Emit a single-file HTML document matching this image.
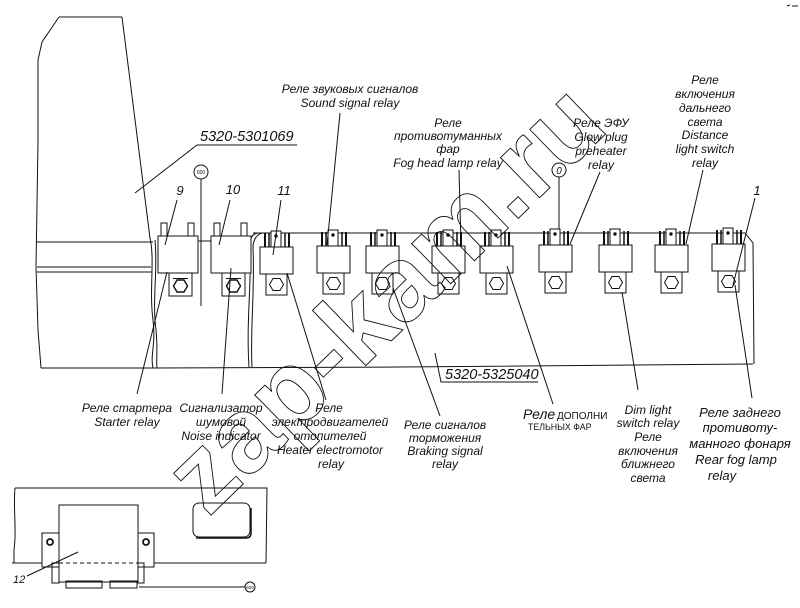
<!DOCTYPE html>
<html><head><meta charset="utf-8">
<style>
html,body{margin:0;padding:0;background:#fff;width:800px;height:608px;overflow:hidden}
svg{display:block}
.l{stroke:#111;stroke-width:1;fill:none}
text{font-family:"Liberation Sans","DejaVu Sans",sans-serif;font-style:italic;font-size:12px;fill:#111}
.c{text-anchor:middle}
</style></head>
<body>
<svg width="800" height="608" viewBox="0 0 800 608" xmlns="http://www.w3.org/2000/svg">
<defs>
<g id="sr" class="l">
  <rect x="0" y="246" width="33" height="27" fill="#fff"/>
  <rect x="11" y="230" width="10" height="16" fill="#fff"/>
  <circle cx="16" cy="235" r="1.2" fill="#111"/>
  <line x1="5" y1="232" x2="5" y2="246" stroke-width="2"/>
  <line x1="9" y1="232" x2="9" y2="246" stroke-width="1.5"/>
  <line x1="25" y1="232" x2="25" y2="246" stroke-width="1.5"/>
  <line x1="29" y1="232" x2="29" y2="246" stroke-width="2"/>
  <rect x="6" y="273" width="21" height="21"/>
  <polygon points="9.5,283.5 13,277.5 20,277.5 23.5,283.5 20,289.5 13,289.5"/>
</g>
<g id="br" class="l">
  <rect x="0" y="236" width="40" height="37" fill="#fff"/>
  <rect x="3" y="223" width="6" height="13"/>
  <rect x="30" y="223" width="6" height="13"/>
  <rect x="11" y="273" width="23" height="23"/>
  <line x1="15" y1="278.5" x2="30" y2="278.5"/>
  <polygon points="15.5,286 19,280 26,280 29.5,286 26,292 19,292" stroke-width="1.4"/>
</g>
</defs>

<!-- left plate outline -->
<g class="l">
  <path d="M59,17 L122,17"/>
  <path d="M59,17 L42,42 L38,60 L38,140 L36,267 L38,330 L41,368"/>
  <path d="M122,17 L150,238"/>
  <path d="M37,242 L153,242 M37,267 L151,267 M37,272 L152,272"/>
  <path d="M150,238 C155,260 149,290 153,320 C156,345 150,355 153,368"/>
  <path d="M155,240 C158,270 152,300 156,330 C158,350 156,360 157,368"/>
  <path d="M41,368 L155,368 L400,367 L753,364"/>
  <path d="M258,233 Q250,234 250,245 C252,280 246,320 249,367"/>
  <path d="M262,233 Q253,236 253,248 C255,290 250,330 252,367"/>
  <path d="M253,233 L745,233 L753,243 L754,364"/>
  <path d="M198,241 L211,241"/>
</g>

<!-- relays -->
<use href="#br" x="158" y="0"/>
<use href="#br" x="211" y="0"/>
<use href="#sr" x="260" y="1"/>
<use href="#sr" x="317" y="0"/>
<use href="#sr" x="366" y="0"/>
<use href="#sr" x="432" y="0"/>
<use href="#sr" x="480" y="0"/>
<use href="#sr" x="539" y="-1"/>
<use href="#sr" x="599" y="-1"/>
<use href="#sr" x="655" y="-1"/>
<use href="#sr" x="712" y="-2"/>

<!-- circles -->
<g class="l">
  <circle cx="201" cy="172" r="7"/>
  <line x1="201" y1="179" x2="201" y2="306"/>
  <circle cx="559" cy="170" r="7"/>
  <line x1="559" y1="177" x2="559" y2="229"/>
</g>
<text x="201" y="174" class="c" style="font-size:5px;font-style:normal">600</text>
<text x="559" y="174" class="c" style="font-size:10px">0</text>

<!-- leaders -->
<g class="l" stroke-width="0.9">
  <path d="M297,145 L197,145 L135,193"/>
  <path d="M538,382 L441,382 L435,353"/>
  <line x1="340" y1="113" x2="327" y2="245"/>
  <line x1="459" y1="170" x2="461" y2="245"/>
  <line x1="600" y1="172" x2="570" y2="244"/>
  <line x1="703" y1="170" x2="686" y2="244"/>
  <line x1="755" y1="198" x2="733" y2="285"/>
  <line x1="177" y1="200" x2="165" y2="245"/>
  <line x1="230" y1="200" x2="219" y2="245"/>
  <line x1="281" y1="200" x2="273" y2="255"/>
  <line x1="137" y1="394" x2="167" y2="272"/>
  <line x1="222" y1="394" x2="231" y2="268"/>
  <line x1="326" y1="400" x2="287" y2="273"/>
  <line x1="440" y1="416" x2="393" y2="288"/>
  <line x1="553" y1="404" x2="507" y2="266"/>
  <line x1="638" y1="390" x2="622" y2="292"/>
  <line x1="752" y1="398" x2="735" y2="285"/>
</g>

<!-- labels top -->
<text x="350" y="93" class="c">Реле звуковых сигналов</text>
<text x="350" y="107" class="c">Sound signal relay</text>

<text x="200" y="141" style="font-size:14.5px">5320-5301069</text>

<text x="448" y="127" class="c">Реле</text>
<text x="448" y="140" class="c">противотуманных</text>
<text x="448" y="153" class="c">фар</text>
<text x="448" y="167" class="c">Fog head lamp relay</text>

<text x="601" y="127" class="c">Реле ЭФУ</text>
<text x="601" y="141" class="c">Glow plug</text>
<text x="601" y="155" class="c">preheater</text>
<text x="601" y="169" class="c">relay</text>

<text x="705" y="84" class="c">Реле</text>
<text x="705" y="98" class="c">включения</text>
<text x="705" y="112" class="c">дальнего</text>
<text x="705" y="126" class="c">света</text>
<text x="705" y="139" class="c">Distance</text>
<text x="705" y="153" class="c">light switch</text>
<text x="705" y="167" class="c">relay</text>

<text x="180" y="195" class="c" style="font-size:13px">9</text>
<text x="233" y="194" class="c" style="font-size:13px">10</text>
<text x="284" y="195" class="c" style="font-size:13px">11</text>
<text x="757" y="195" class="c" style="font-size:13px">1</text>

<!-- labels bottom -->
<text x="127" y="412" class="c">Реле стартера</text>
<text x="127" y="426" class="c">Starter relay</text>

<text x="221" y="412" class="c">Сигнализатор</text>
<text x="221" y="426" class="c">шумовой</text>
<text x="221" y="440" class="c">Noise indicator</text>

<text x="329" y="412" class="c">Реле</text>
<text x="330" y="426" class="c">электродвигателей</text>
<text x="330" y="440" class="c">отопителей</text>
<text x="330" y="454" class="c">Heater electromotor</text>
<text x="331" y="468" class="c">relay</text>

<text x="445" y="379" style="font-size:14.5px">5320-5325040</text>

<text x="445" y="429" class="c">Реле сигналов</text>
<text x="445" y="442" class="c">торможения</text>
<text x="445" y="455" class="c">Braking signal</text>
<text x="445" y="468" class="c">relay</text>

<text x="523" y="419" style="font-size:14px">Реле</text>
<text x="557" y="419" style="font-size:10px;font-style:normal">ДОПОЛНИ</text>
<text x="528" y="430" style="font-size:8.8px;font-style:normal">ТЕЛЬНЫХ ФАР</text>

<text x="648" y="414" class="c">Dim light</text>
<text x="648" y="427" class="c">switch relay</text>
<text x="648" y="441" class="c">Реле</text>
<text x="648" y="455" class="c">включения</text>
<text x="648" y="468" class="c">ближнего</text>
<text x="648" y="482" class="c">света</text>

<text x="740" y="417" class="c" style="font-size:13px">Реле заднего</text>
<text x="740" y="432" class="c" style="font-size:13px">противоту-</text>
<text x="740" y="448" class="c" style="font-size:13px">манного фонаря</text>
<text x="736" y="464" class="c" style="font-size:13px">Rear fog lamp</text>
<text x="722" y="480" class="c" style="font-size:13px">relay</text>

<!-- bottom figure -->
<g class="l">
  <path d="M15,488 L267,488 L266,563"/>
  <path d="M15,488 C13,510 17,530 14,550 L14,563"/>
  <path d="M12,563 L42,563 M154,563 L266,563"/>
  <path d="M59,563 L138,563" stroke-dasharray="4,3"/>
  <rect x="59" y="505" width="79" height="77"/>
  <rect x="42" y="533" width="17" height="34"/>
  <rect x="138" y="533" width="16" height="34"/>
  <rect x="52" y="563" width="7" height="20"/>
  <rect x="138" y="563" width="6" height="20"/>
  <circle cx="50" cy="542" r="3" stroke-width="1.8"/>
  <circle cx="146" cy="542" r="3" stroke-width="1.8"/>
  <rect x="66" y="581" width="36" height="7"/>
  <rect x="110" y="581" width="27" height="7"/>
  <line x1="139" y1="587" x2="245" y2="587"/>
  <circle cx="250" cy="587" r="5"/>
  <line x1="27" y1="576" x2="78" y2="552"/>
  <rect x="193" y="503" width="57" height="34" rx="6"/>
  <path d="M196,538 L246,538 Q251,538 251,533 L251,508" stroke-width="1.5"/>
</g>
<text x="250" y="589" class="c" style="font-size:4.5px;font-style:normal">600</text>
<text x="13" y="583" style="font-size:11px">12</text>

<!-- top-right mark -->
<path d="M787,6 L790,5 M792,6 L798,6" class="l"/>

<!-- watermark -->
<text transform="translate(208,518) rotate(-44)" style="font-size:106px;font-weight:bold;font-style:normal;fill:none;stroke:#111;stroke-width:0.9">zap-kam.ru</text>
</svg>
</body></html>
